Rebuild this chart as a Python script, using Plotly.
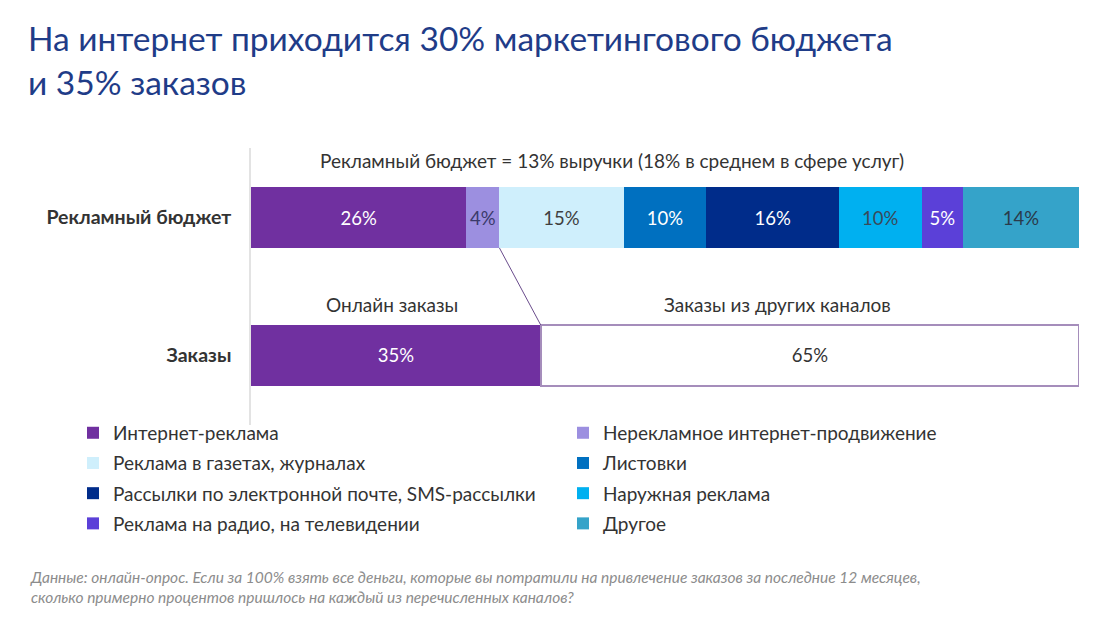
import plotly.graph_objects as go

# ---------------- data ----------------
row_labels = ["Рекламный бюджет", "Заказы"]

budget_channels = [
    "Интернет-реклама",
    "Нерекламное интернет-продвижение",
    "Реклама в газетах, журналах",
    "Листовки",
    "Рассылки по электронной почте, SMS-рассылки",
    "Наружная реклама",
    "Реклама на радио, на телевидении",
    "Другое",
]
budget_values = [26, 4, 15, 10, 16, 10, 5, 14]

order_channels = ["Онлайн заказы", "Заказы из других каналов"]
order_values = [35, 65]

title_text = "На интернет приходится 30% маркетингового бюджета<br>и 35% заказов"
budget_note = "Рекламный бюджет = 13% выручки (18% в среднем в сфере услуг)"
footnote = ("Данные: онлайн-опрос. Если за 100% взять все деньги, которые вы потратили на привлечение заказов за последние 12 месяцев,"
            "<br>сколько примерно процентов пришлось на каждый из перечисленных каналов?")

# ---------------- styles ----------------
FONT = "Lato"
budget_colors = ["#7030A0", "#9C8FE0", "#CFEFFC", "#0070C0", "#002C8A", "#00B0F0", "#5B40D8", "#35A3C9"]
budget_text_colors = ["white", "#3A3A6A", "#404040", "white", "white", "#3A4A5A", "white", "#2A3A4A"]
order_colors = ["#7030A0", "white"]
order_text_colors = ["white", "#333333"]
Y_BUDGET, Y_ORDERS = 1, 0
BAR_W = 0.44
TXT = 19

fig = go.Figure()

for i, (name, val) in enumerate(zip(budget_channels, budget_values)):
    fig.add_trace(go.Bar(
        y=[Y_BUDGET], x=[val], name=name, orientation="h", width=BAR_W,
        marker=dict(color=budget_colors[i], line=dict(width=0)),
        text=[f"{val}%"], textposition="inside", insidetextanchor="middle",
        textangle=0, constraintext="none",
        insidetextfont=dict(color=budget_text_colors[i], size=18.5, family=FONT),
        legend="legend" if i % 2 == 0 else "legend2",
        legendgroup=name,
        hoverinfo="skip",
    ))

for i, (name, val) in enumerate(zip(order_channels, order_values)):
    fig.add_trace(go.Bar(
        y=[Y_ORDERS], x=[val], name=name, orientation="h", width=BAR_W,
        marker=dict(color=order_colors[i],
                    line=dict(width=0 if i == 0 else 1.5, color="#A58DBB")),
        text=[f"{val}%"], textposition="inside", insidetextanchor="middle",
        textangle=0, constraintext="none",
        insidetextfont=dict(color=order_text_colors[i], size=18.5, family=FONT),
        showlegend=False, hoverinfo="skip",
    ))

# connector: end of internet share in budget -> end of online orders
internet_share = budget_values[0] + budget_values[1]
online_share = order_values[0]
fig.add_trace(go.Scatter(
    x=[internet_share, online_share],
    y=[Y_BUDGET - BAR_W / 2, Y_ORDERS + BAR_W / 2],
    mode="lines", line=dict(color="#6A4C8C", width=1),
    showlegend=False, hoverinfo="skip",
))

# labels above bars
fig.add_annotation(x=43.6, y=1.417, text=budget_note, showarrow=False,
                   font=dict(size=TXT, color="#333333", family=FONT))
fig.add_annotation(x=17.0, y=0.373, text=order_channels[0], showarrow=False,
                   font=dict(size=TXT, color="#333333", family=FONT))
fig.add_annotation(x=63.6, y=0.373, text=order_channels[1], showarrow=False,
                   font=dict(size=TXT, color="#333333", family=FONT))

# footnote
fig.add_annotation(xref="paper", yref="paper", x=(28 - 251) / 828, y=(425 - 566) / 277,
                   xanchor="left", yanchor="top", align="left", showarrow=False,
                   text=footnote,
                   font=dict(size=15.5, color="#8C8C8C", family=FONT, style="italic"))

legend_common = dict(
    orientation="v", yanchor="top", xanchor="left",
    font=dict(size=TXT, color="#333333", family=FONT),
    bgcolor="rgba(0,0,0,0)", borderwidth=0, tracegroupgap=2.5,
    itemwidth=30, traceorder="grouped",
)

fig.update_layout(
    width=1116, height=617,
    paper_bgcolor="white", plot_bgcolor="white",
    barmode="stack",
    margin=dict(l=251, r=37, t=148, b=192),
    font=dict(family=FONT, color="#333333"),
    title=dict(text=title_text, xref="container", yref="container",
               x=28 / 1116, xanchor="left", y=1 - 51 / 617, yanchor="top",
               font=dict(size=33.5, color="#1F3C88", family=FONT)),
    xaxis=dict(range=[0, 100], showgrid=False, zeroline=False, showticklabels=False,
               showline=False, fixedrange=True),
    yaxis=dict(range=[-0.504, 1.504], tickvals=[Y_BUDGET, Y_ORDERS], ticktext=row_labels,
               showgrid=False, zeroline=False, showline=True, linecolor="#E3E3E3", linewidth=1.5,
               ticks="", ticklabelstandoff=14,
               tickfont=dict(size=19.5, color="#333333", family=FONT, weight="bold")),
    legend=dict(x=(73 - 251) / 828, y=0.04, **legend_common),
    legend2=dict(x=(563 - 251) / 828, y=0.04, **legend_common),
    showlegend=True,
)

fig.write_html("out.html", post_script="document.body.style.margin='0';",
               config={"displayModeBar": False})
